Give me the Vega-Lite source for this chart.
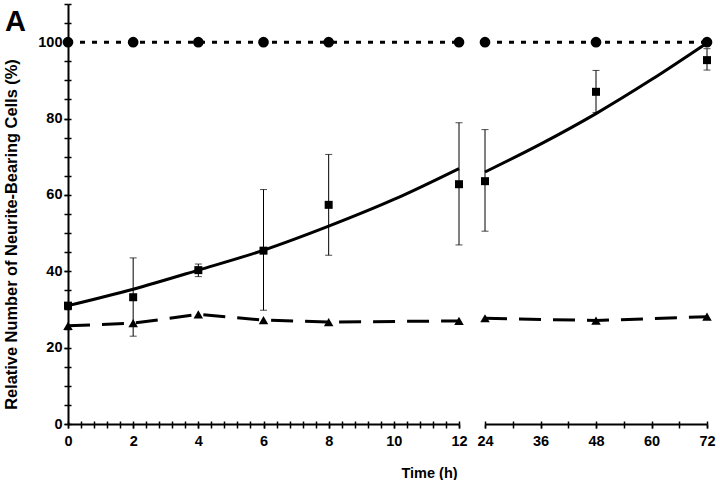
{
  "$schema": "https://vega.github.io/schema/vega-lite/v6.json",
  "background": "white",
  "padding": {"left": 2, "top": 3, "right": 0, "bottom": 0},
  "config": {
    "view": {"stroke": null},
    "font": "Liberation Sans",
    "axis": {"grid": false, "domainColor": "black", "domainWidth": 2, "tickColor": "black", "tickWidth": 1.5, "labelColor": "black", "labelFont": "Liberation Sans", "labelFontWeight": "bold", "labelFontSize": 14.5, "titleColor": "black", "titleFont": "Liberation Sans", "titleFontWeight": "bold", "labelOverlap": false, "labelFlush": false}
  },
  "title": {"text": "A", "anchor": "start", "frame": "bounds", "fontSize": 29, "fontWeight": "bold", "font": "Liberation Sans", "color": "black", "baseline": "top", "offset": -34, "dx": 2},
  "datasets": {
    "circles": [
      {"t": 0, "v": 100}, {"t": 2, "v": 100}, {"t": 4, "v": 100}, {"t": 6, "v": 100}, {"t": 8, "v": 100}, {"t": 12, "v": 100},
      {"t": 24, "v": 100}, {"t": 48, "v": 100}, {"t": 72, "v": 100}
    ],
    "squares": [
      {"t": 0, "v": 31.0, "lo": 30.5, "hi": 31.5},
      {"t": 2, "v": 33.2, "lo": 23.0, "hi": 43.5},
      {"t": 4, "v": 40.3, "lo": 38.6, "hi": 41.9},
      {"t": 6, "v": 45.4, "lo": 29.8, "hi": 61.4},
      {"t": 8, "v": 57.4, "lo": 44.2, "hi": 70.6},
      {"t": 12, "v": 62.8, "lo": 46.9, "hi": 78.9},
      {"t": 24, "v": 63.6, "lo": 50.5, "hi": 77.1},
      {"t": 48, "v": 87.0, "lo": 81.6, "hi": 92.6},
      {"t": 72, "v": 95.3, "lo": 92.7, "hi": 98.3}
    ],
    "curve": [
      {"t": 0, "v": 31.0}, {"t": 2, "v": 35.3}, {"t": 4, "v": 40.3}, {"t": 6, "v": 45.5}, {"t": 8, "v": 51.8}, {"t": 10, "v": 58.8}, {"t": 12, "v": 66.9},
      {"t": 24, "v": 66.0}, {"t": 36, "v": 73.3}, {"t": 48, "v": 81.3}, {"t": 60, "v": 90.2}, {"t": 72, "v": 99.8}
    ],
    "triangles": [
      {"t": 0, "v": 25.7}, {"t": 2, "v": 26.4}, {"t": 4, "v": 28.7}, {"t": 6, "v": 27.2}, {"t": 8, "v": 26.7}, {"t": 12, "v": 27.0},
      {"t": 24, "v": 27.7}, {"t": 48, "v": 27.1}, {"t": 72, "v": 28.1}
    ]
  },
  "hconcat": [
    {
      "width": 391,
      "height": 420,
      "resolve": {"axis": {"x": "independent", "y": "independent"}},
      "layer": [
        {
          "data": {"name": "circles"},
          "transform": [{"filter": "datum.t <= 12"}],
          "mark": {"type": "line", "color": "black", "strokeWidth": 3, "strokeDash": [5, 7]},
          "encoding": {
            "x": {"field": "t", "type": "quantitative", "scale": {"domain": [0, 12], "nice": false, "zero": false},
              "axis": {"orient": "bottom", "values": [0,2,4,6,8,10,12], "format": "d", "tickSize": 4, "labelPadding": 6,
                "title": "Time (h)", "titleFontSize": 14.5, "titleX": 361, "titleY": 49, "titleBaseline": "middle", "titleAlign": "center"}},
            "y": {"field": "v", "type": "quantitative", "scale": {"domain": [0, 110], "nice": false},
              "axis": {"orient": "left", "values": [0,20,40,60,80,100], "format": "d", "tickSize": 4, "labelPadding": 2,
                "title": "Relative Number of Neurite-Bearing Cells (%)", "titleFontSize": 16.4, "titleX": -57, "titleY": 230, "titleBaseline": "middle", "titleAlign": "center", "titleAngle": -90}}
          }
        },
        {
          "data": {"name": "circles"},
          "transform": [{"filter": "datum.t <= 12"}],
          "mark": {"type": "point", "shape": "circle", "filled": true, "color": "black", "size": 115, "opacity": 1},
          "encoding": {
            "x": {"field": "t", "type": "quantitative",
              "axis": {"orient": "bottom", "values": [0,0.4,0.8,1.2,1.6,2,2.4,2.8,3.2,3.6,4,4.4,4.8,5.2,5.6,6,6.4,6.8,7.2,7.6,8,8.4,8.8,9.2,9.6,10,10.4,10.8,11.2,11.6,12],
                "labels": false, "domain": false, "tickSize": -3, "title": null}},
            "y": {"field": "v", "type": "quantitative",
              "axis": {"orient": "left", "values": [0,5,10,15,20,25,30,35,40,45,50,55,60,65,70,75,80,85,90,95,100,105,110],
                "labels": false, "domain": false, "tickSize": -3, "title": null}}
          }
        },
        {
          "data": {"name": "curve"},
          "transform": [{"filter": "datum.t <= 12"}],
          "mark": {"type": "line", "color": "black", "strokeWidth": 3, "interpolate": "monotone"},
          "encoding": {
            "x": {"field": "t", "type": "quantitative",
              "axis": {"orient": "bottom", "values": [0,0.4,0.8,1.2,1.6,2,2.4,2.8,3.2,3.6,4,4.4,4.8,5.2,5.6,6,6.4,6.8,7.2,7.6,8,8.4,8.8,9.2,9.6,10,10.4,10.8,11.2,11.6,12],
                "labels": false, "domain": false, "tickSize": 4, "title": null}},
            "y": {"field": "v", "type": "quantitative",
              "axis": {"orient": "left", "values": [0,5,10,15,20,25,30,35,40,45,50,55,60,65,70,75,80,85,90,95,100,105,110],
                "labels": false, "domain": false, "tickSize": 4, "title": null}}
          }
        },
        {
          "data": {"name": "triangles"},
          "transform": [{"filter": "datum.t <= 12"}],
          "mark": {"type": "line", "color": "black", "strokeWidth": 3, "strokeDash": [22, 12]},
          "encoding": {
            "x": {"field": "t", "type": "quantitative", "axis": null},
            "y": {"field": "v", "type": "quantitative", "axis": null}
          }
        },
        {
          "data": {"name": "triangles"},
          "transform": [{"filter": "datum.t <= 12"}],
          "mark": {"type": "point", "shape": "triangle-up", "filled": true, "color": "black", "size": 90, "opacity": 1},
          "encoding": {
            "x": {"field": "t", "type": "quantitative", "axis": null},
            "y": {"field": "v", "type": "quantitative", "axis": null}
          }
        },
        {
          "data": {"name": "squares"},
          "transform": [{"filter": "datum.t <= 12"}],
          "mark": {"type": "errorbar", "ticks": {"size": 7, "color": "black", "thickness": 1}, "rule": {"color": "black", "strokeWidth": 1}},
          "encoding": {
            "x": {"field": "t", "type": "quantitative", "axis": null},
            "y": {"field": "lo", "type": "quantitative", "axis": null},
            "y2": {"field": "hi"}
          }
        },
        {
          "data": {"name": "squares"},
          "transform": [{"filter": "datum.t <= 12"}],
          "mark": {"type": "point", "shape": "square", "filled": true, "color": "black", "size": 64, "opacity": 1},
          "encoding": {
            "x": {"field": "t", "type": "quantitative", "axis": null},
            "y": {"field": "v", "type": "quantitative", "axis": null}
          }
        }
      ]
    },
    {
      "width": 222,
      "height": 420,
      "resolve": {"axis": {"x": "independent"}},
      "layer": [
        {
          "data": {"name": "circles"},
          "transform": [{"filter": "datum.t >= 24"}],
          "mark": {"type": "line", "color": "black", "strokeWidth": 3, "strokeDash": [5, 7]},
          "encoding": {
            "x": {"field": "t", "type": "quantitative", "scale": {"domain": [24, 72], "nice": false, "zero": false},
              "axis": {"orient": "bottom", "values": [24,36,48,60,72], "format": "d", "tickSize": 4, "labelPadding": 6, "title": null}},
            "y": {"field": "v", "type": "quantitative", "scale": {"domain": [0, 110], "nice": false}, "axis": null}
          }
        },
        {
          "data": {"name": "circles"},
          "transform": [{"filter": "datum.t >= 24"}],
          "mark": {"type": "point", "shape": "circle", "filled": true, "color": "black", "size": 115, "opacity": 1},
          "encoding": {
            "x": {"field": "t", "type": "quantitative",
              "axis": {"orient": "bottom", "values": [24,30,36,42,48,54,60,66,72], "labels": false, "domain": false, "tickSize": -3, "title": null}},
            "y": {"field": "v", "type": "quantitative", "axis": null}
          }
        },
        {
          "data": {"name": "curve"},
          "transform": [{"filter": "datum.t >= 24"}],
          "mark": {"type": "line", "color": "black", "strokeWidth": 3, "interpolate": "monotone"},
          "encoding": {
            "x": {"field": "t", "type": "quantitative",
              "axis": {"orient": "bottom", "values": [24,30,36,42,48,54,60,66,72], "labels": false, "domain": false, "tickSize": 4, "title": null}},
            "y": {"field": "v", "type": "quantitative", "axis": null}
          }
        },
        {
          "data": {"name": "triangles"},
          "transform": [{"filter": "datum.t >= 24"}],
          "mark": {"type": "line", "color": "black", "strokeWidth": 3, "strokeDash": [22, 12]},
          "encoding": {
            "x": {"field": "t", "type": "quantitative", "axis": null},
            "y": {"field": "v", "type": "quantitative", "axis": null}
          }
        },
        {
          "data": {"name": "triangles"},
          "transform": [{"filter": "datum.t >= 24"}],
          "mark": {"type": "point", "shape": "triangle-up", "filled": true, "color": "black", "size": 90, "opacity": 1},
          "encoding": {
            "x": {"field": "t", "type": "quantitative", "axis": null},
            "y": {"field": "v", "type": "quantitative", "axis": null}
          }
        },
        {
          "data": {"name": "squares"},
          "transform": [{"filter": "datum.t >= 24"}],
          "mark": {"type": "errorbar", "ticks": {"size": 7, "color": "black", "thickness": 1}, "rule": {"color": "black", "strokeWidth": 1}},
          "encoding": {
            "x": {"field": "t", "type": "quantitative", "axis": null},
            "y": {"field": "lo", "type": "quantitative", "axis": null},
            "y2": {"field": "hi"}
          }
        },
        {
          "data": {"name": "squares"},
          "transform": [{"filter": "datum.t >= 24"}],
          "mark": {"type": "point", "shape": "square", "filled": true, "color": "black", "size": 64, "opacity": 1},
          "encoding": {
            "x": {"field": "t", "type": "quantitative", "axis": null},
            "y": {"field": "v", "type": "quantitative", "axis": null}
          }
        }
      ]
    }
  ],
  "spacing": 26,
  "bounds": "flush"
}
